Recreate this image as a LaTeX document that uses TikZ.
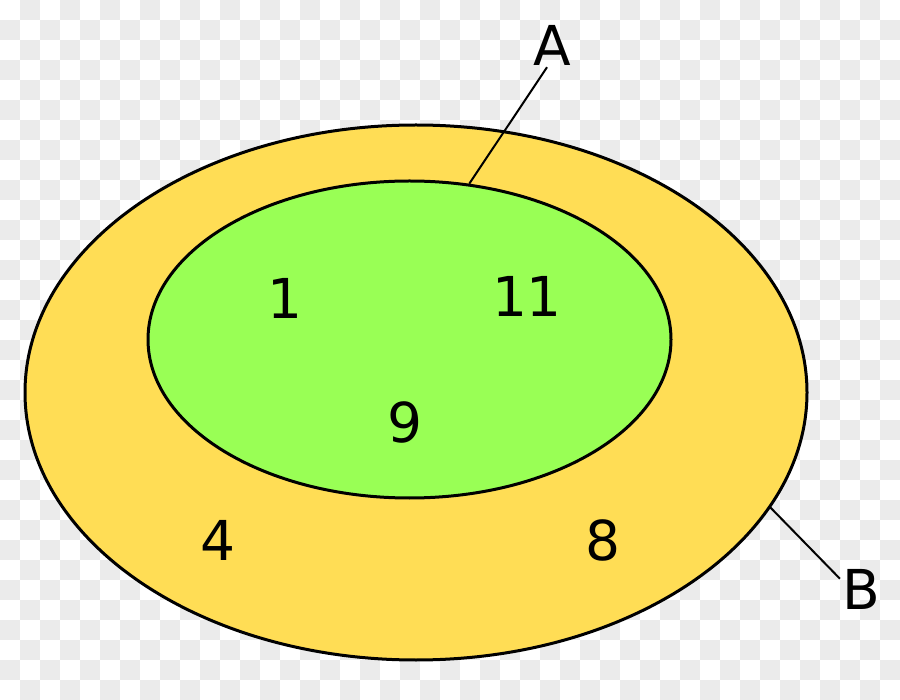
\documentclass[tikz,border=0pt]{standalone}
\usepackage{fontspec}
\setmainfont{DejaVu Sans}
\usetikzlibrary{shapes.geometric}
\definecolor{yellowB}{HTML}{FFDD55}
\definecolor{greenA}{HTML}{99FF55}
\definecolor{chk}{HTML}{EBEBEB}
\tikzset{
  setshape/.style={ellipse, draw=black, line width=3pt, inner sep=0pt},
  num/.style={font=\fontsize{55}{66}\selectfont, inner sep=2pt},
  lead/.style={line width=2pt}
}
\begin{document}
\begin{tikzpicture}[x=1pt,y=-1pt]
    \useasboundingbox (0,0) rectangle (900,700);
    % checkered background
    \foreach \i in {0,...,44} {\foreach \j in {0,...,34} {
        \pgfmathparse{int(mod(\i+\j,2))}
        \ifnum\pgfmathresult=1 \fill[chk] (20*\i,20*\j) rectangle ++(20,20); \fi}}
    % set B and set A
    \node[setshape, fill=yellowB, minimum width=782pt, minimum height=535pt] (outerB) at (416,392.5) {};
    \node[setshape, fill=greenA, minimum width=523pt, minimum height=317pt] (innerA) at (409.5,339.5) {};
    % elements
    \node[num] (n1) at (285,298) {1};
    \node[num] (n11) at (527,296) {11};
    \node[num] (n9) at (405,422) {9};
    \node[num] (n4) at (218,540) {4};
    \node[num] (n8) at (603,540) {8};
    % labels
    \node[num] (labA) at (552,45) {A};
    \node[num] (labB) at (861,589) {B};
    \draw[lead] (innerA.69.6) -- ([xshift=-5pt]labA.south);
    \draw[lead] (outerB.-18.7) -- (labB.154);
\end{tikzpicture}
\end{document}
